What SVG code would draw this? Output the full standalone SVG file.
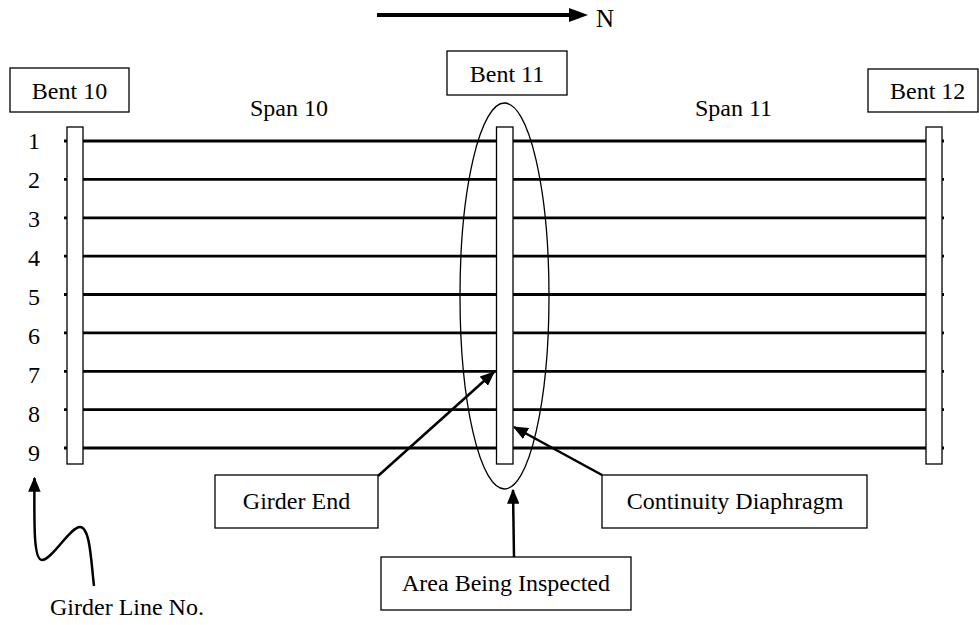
<svg xmlns="http://www.w3.org/2000/svg" width="979" height="625" viewBox="0 0 979 625">
  <style>
    text { font-family: 'Liberation Serif', 'Times New Roman', serif; font-size: 24px; fill: #000; }
    .box { fill: #fff; stroke: #000; stroke-width: 1.3; }
    .girder { stroke: #000; stroke-width: 2.8; fill: none; }
    .bent { fill: #fff; stroke: #000; stroke-width: 1.3; }
    .lead { stroke: #000; stroke-width: 2.5; fill: none; }
  </style>
  <defs>
    <marker id="head" viewBox="0 0 12 10" refX="11" refY="5" markerWidth="6" markerHeight="5" orient="auto" markerUnits="strokeWidth">
      <path d="M0,0 L12,5 L0,10 z" fill="#000"/>
    </marker>
  </defs>

  <!-- north arrow -->
  <g id="north">
    <line x1="377" y1="15" x2="572" y2="15" stroke="#000" stroke-width="4"/>
    <path d="M569,8 L588,15 L569,22 z" fill="#000"/>
    <text x="596" y="27" style="font-size:25px">N</text>
  </g>

  <!-- girder lines -->
  <g id="girders">
    <line class="girder" x1="64" y1="141" x2="944" y2="141"/>
    <line class="girder" x1="64" y1="179.4" x2="944" y2="179.4"/>
    <line class="girder" x1="64" y1="217.8" x2="944" y2="217.8"/>
    <line class="girder" x1="64" y1="256.1" x2="944" y2="256.1"/>
    <line class="girder" x1="64" y1="294.5" x2="944" y2="294.5"/>
    <line class="girder" x1="64" y1="332.9" x2="944" y2="332.9"/>
    <line class="girder" x1="64" y1="371.3" x2="944" y2="371.3"/>
    <line class="girder" x1="64" y1="409.6" x2="944" y2="409.6"/>
    <line class="girder" x1="64" y1="448" x2="944" y2="448"/>
  </g>

  <!-- girder line numbers -->
  <g id="numbers">
    <text x="34" y="149" text-anchor="middle">1</text>
    <text x="34" y="188" text-anchor="middle">2</text>
    <text x="34" y="227" text-anchor="middle">3</text>
    <text x="34" y="266" text-anchor="middle">4</text>
    <text x="34" y="305" text-anchor="middle">5</text>
    <text x="34" y="344" text-anchor="middle">6</text>
    <text x="34" y="383" text-anchor="middle">7</text>
    <text x="34" y="422" text-anchor="middle">8</text>
    <text x="34" y="461" text-anchor="middle">9</text>
  </g>

  <!-- bents (caps) -->
  <g id="bent10">
    <rect class="bent" x="67" y="127" width="16" height="337"/>
    <rect class="box" x="10" y="68" width="119" height="44"/>
    <text x="69.5" y="99" text-anchor="middle">Bent 10</text>
  </g>
  <g id="bent11">
    <rect class="bent" x="496.5" y="127" width="16.5" height="337"/>
    <rect class="box" x="447" y="51" width="120" height="44"/>
    <text x="507" y="82" text-anchor="middle">Bent 11</text>
  </g>
  <g id="bent12">
    <rect class="bent" x="926" y="127" width="16" height="337"/>
    <rect class="box" x="868" y="69" width="110" height="43"/>
    <text x="890" y="99">Bent 12</text>
  </g>

  <!-- span labels -->
  <g id="spans">
    <text x="250" y="116">Span 10</text>
    <text x="695" y="116">Span 11</text>
  </g>

  <!-- inspected area outline -->
  <g id="area">
    <ellipse cx="504.5" cy="296" rx="44.5" ry="193" fill="none" stroke="#000" stroke-width="1.3"/>
  </g>

  <!-- callout connectors -->
  <g id="connectors">
    <line class="lead" x1="378" y1="476" x2="494" y2="372" marker-end="url(#head)"/>
    <line class="lead" x1="602" y1="475" x2="514" y2="427" marker-end="url(#head)"/>
    <line class="lead" x1="514" y1="557" x2="513" y2="490" marker-end="url(#head)"/>
    <path class="lead" d="M94,586 C91,560 90,527 80,527 C70,527 52,560 42,560 C34,560 34,530 34.5,478" marker-end="url(#head)"/>
  </g>

  <!-- callout labels -->
  <g id="girder-end">
    <rect class="box" x="215" y="475" width="163" height="53"/>
    <text x="296.5" y="509" text-anchor="middle">Girder End</text>
  </g>
  <g id="continuity-diaphragm">
    <rect class="box" x="602" y="475" width="265" height="53"/>
    <text x="735" y="509" text-anchor="middle">Continuity Diaphragm</text>
  </g>
  <g id="area-inspected">
    <rect class="box" x="381" y="557" width="250" height="53"/>
    <text x="506" y="591" text-anchor="middle">Area Being Inspected</text>
  </g>
  <g id="girder-line-no">
    <text x="50" y="615">Girder Line No.</text>
  </g>
</svg>
